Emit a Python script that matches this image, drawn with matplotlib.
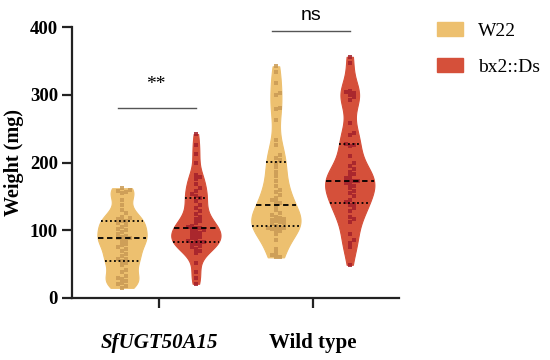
import numpy as np
import matplotlib
matplotlib.use("Agg")
import matplotlib.pyplot as plt
from matplotlib.patches import Patch

# data (mg)
groups = ["SfUGT50A15", "Wild type"]
w22_sfugt = [15, 18, 20, 22, 25, 28, 30, 33, 38, 42, 48, 52, 55, 57, 58, 62, 65, 70,
             72, 75, 78, 80, 84, 86, 88, 88, 90, 92, 95, 98, 100, 102, 105, 108, 110,
             113, 114, 116, 118, 120, 125, 130, 138, 145, 155, 157, 158, 160, 162]
bx2_sfugt = [21, 30, 38, 52, 66, 70, 73, 75, 77, 79, 81, 82, 83, 84, 86, 88, 90, 92,
             94, 96, 98, 100, 101, 103, 104, 105, 107, 110, 113, 116, 120, 124, 128,
             133, 138, 143, 148, 150, 153, 158, 163, 168, 175, 178, 182, 200, 213, 226, 242]
w22_wt = [60, 61, 63, 66, 72, 85, 95, 99, 101, 102, 103, 104, 105,
          107, 109, 110, 112, 114, 115, 117, 118, 120, 122, 125, 130, 136,
          140, 142, 145, 148, 152, 156, 160, 165, 172, 180, 186, 193, 200,
          204, 206, 211, 226, 233, 262, 279, 280, 300, 302, 318, 333, 342]
bx2_wt = [49, 75, 81, 86, 95, 112, 117, 120, 128, 133, 137, 139, 141, 145, 150, 155, 158,
          162, 165, 168, 170, 172, 172, 174, 177, 180, 183, 186, 190, 195, 200, 210, 224,
          226, 228, 240, 243, 258, 292, 296, 300, 302, 304, 306, 347, 356]
series = ["W22", "bx2::Ds"]
sig_labels = ["**", "ns"]
sig_heights = [280, 394]

fill_cols = ["#EDC06F", "#D5503A"]
dot_cols = ["#C99A55", "#A3202B"]

plt.rcParams['font.family'] = ['Liberation Serif', 'DejaVu Serif']

fig = plt.figure(figsize=(5.5, 3.6), dpi=100)
ax = fig.add_axes([72/550, 62/360, 327/550, 271/360])
ax.set_xlim(-0.565, 1.56)
ax.set_ylim(0, 400)

px_x = 327 / (1.56 + 0.565)   # pixels per x unit
px_y = 271 / 400.0            # pixels per mg


def kde(vals, grid, factor):
    v = np.asarray(vals, float)
    bw = factor * v.std(ddof=1)
    d = np.exp(-0.5 * ((grid[:, None] - v[None, :]) / bw) ** 2).sum(axis=1)
    return d


def swarm(vals, d=4.0):
    placed = []
    offs = []
    for v in vals:
        y = v * px_y
        k = 0
        while True:
            for off in ([0.0] if k == 0 else [k * d / 2, -k * d / 2]):
                ok = all((off - px) ** 2 + (y - py) ** 2 >= d * d for px, py in placed)
                if ok:
                    break
            if ok:
                break
            k += 1
        placed.append((off, y))
        offs.append(off / px_x)
    return np.array(offs)


data = [[w22_sfugt, bx2_sfugt], [w22_wt, bx2_wt]]
half_w = 0.16
for gi, pair in enumerate(data):
    for si, vals in enumerate(pair):
        xc = gi + (-0.24 if si == 0 else 0.24)
        vals = np.sort(vals)
        grid = np.linspace(vals.min(), vals.max(), 300)
        dens = kde(vals, grid, 0.28)
        w = dens / dens.max() * half_w
        ax.fill_betweenx(grid, xc - w, xc + w, color=fill_cols[si], lw=0.8,
                         edgecolor=fill_cols[si], zorder=2)
        xs = xc + swarm(vals)
        ax.scatter(xs, vals, s=7, color=dot_cols[si], alpha=0.85, lw=0,
                   marker='s', zorder=3)
        q1, med, q3 = np.percentile(vals, [25, 50, 75])
        for q, ls in [(q1, (0, (1, 1.5))), (med, (0, (3, 2))), (q3, (0, (1, 1.5)))]:
            hw = np.interp(q, grid, w)
            ax.plot([xc - hw, xc + hw], [q, q], color='black', lw=1.3, ls=ls, zorder=4)

# significance
for gi in range(2):
    h = sig_heights[gi]
    ax.plot([gi - 0.265, gi + 0.24], [h, h], color='#555555', lw=1, clip_on=False)
ax.text(-0.02, 302, sig_labels[0], ha='center', va='bottom', fontsize=14)
ax.text(-0.01 + 1, 405, sig_labels[1], ha='center', va='bottom', fontsize=14,
        family=['Liberation Sans'])

for sp in ['top', 'right']:
    ax.spines[sp].set_visible(False)
for sp in ['left', 'bottom']:
    ax.spines[sp].set_linewidth(1.6)
    ax.spines[sp].set_color('#222222')

ax.set_yticks([0, 100, 200, 300, 400])
ax.set_xticks([0, 1])
ax.set_xticklabels(groups)
ax.tick_params(axis='both', length=7, width=1.6, color='#222222')
ax.tick_params(axis='y', labelsize=13.5, pad=3)
ax.tick_params(axis='x', labelsize=15, pad=18)
for lab in ax.get_yticklabels():
    lab.set_fontweight('bold')
xl = ax.get_xticklabels()
xl[0].set_fontweight('bold')
xl[0].set_fontstyle('italic')
xl[1].set_fontweight('bold')
ax.set_ylabel("Weight (mg)", fontsize=14.5, fontweight='bold', labelpad=4)

handles = [Patch(facecolor=fill_cols[i], edgecolor=fill_cols[i]) for i in range(2)]
fig.legend(handles, series, loc='upper left', bbox_to_anchor=(437/550, 1 - 22/360),
           frameon=False, fontsize=14, handlelength=1.34, handleheight=0.77,
           handletextpad=0.77, labelspacing=0.9, borderpad=0, borderaxespad=0)

fig.savefig("out.png", dpi=100)
